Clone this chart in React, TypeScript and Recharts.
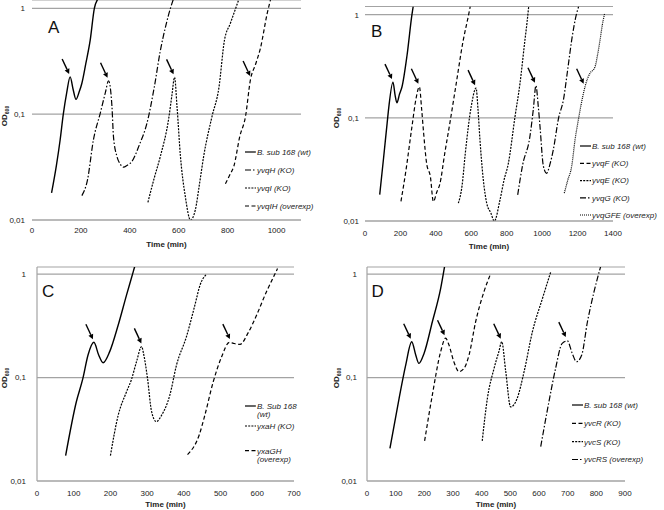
import React from "react";
import { CartesianGrid, Legend, Line, LineChart, ReferenceDot, XAxis, YAxis } from "recharts";

// [time (min), OD600]
const wtA = [[80, 0.018], [100, 0.033], [115, 0.057], [128, 0.1], [142, 0.16], [156, 0.225], [168, 0.172], [180, 0.138], [192, 0.16], [204, 0.196], [220, 0.3], [238, 0.5], [255, 1.0], [272, 1.25]];
const yvqHA = [[204, 0.017], [227, 0.024], [251, 0.057], [279, 0.102], [300, 0.16], [313, 0.207], [327, 0.118], [333, 0.062], [347, 0.04], [360, 0.034], [374, 0.0316], [390, 0.033], [408, 0.0356], [440, 0.052], [470, 0.082], [500, 0.18], [525, 0.4], [548, 0.7], [566, 1.0], [578, 1.22]];
const yvqIA = [[474, 0.0147], [500, 0.025], [525, 0.04], [559, 0.091], [572, 0.15], [583, 0.223], [593, 0.118], [607, 0.04], [627, 0.0166], [648, 0.01], [668, 0.0125], [685, 0.022], [702, 0.04], [736, 0.095], [764, 0.176], [787, 0.5], [811, 0.72], [846, 1.22]];
const yvqIHA = [[791, 0.022], [810, 0.027], [825, 0.032], [850, 0.062], [873, 0.095], [893, 0.21], [915, 0.3], [934, 0.42], [962, 0.9], [975, 1.2]];
const peaksA = [[156, 0.225], [313, 0.207], [583, 0.223], [896, 0.215]];

const wtB = [[83, 0.018], [105, 0.041], [125, 0.089], [134, 0.125], [158, 0.222], [170, 0.165], [180, 0.14], [195, 0.17], [209, 0.2], [237, 0.4], [265, 1.0], [272, 1.2]];
const yvqFB = [[203, 0.0155], [230, 0.03], [265, 0.082], [290, 0.16], [307, 0.2], [320, 0.12], [331, 0.071], [348, 0.036], [369, 0.027], [386, 0.0154], [405, 0.019], [423, 0.023], [450, 0.045], [480, 0.091], [510, 0.19], [555, 0.57], [585, 1.0], [594, 1.2]];
const yvqEB = [[527, 0.0149], [548, 0.022], [566, 0.045], [600, 0.13], [627, 0.194], [638, 0.12], [649, 0.061], [668, 0.025], [687, 0.0149], [710, 0.012], [730, 0.01], [762, 0.016], [785, 0.025], [809, 0.036], [847, 0.103], [875, 0.216], [903, 0.57], [915, 0.85], [924, 1.2]];
const yvqGB = [[862, 0.0179], [890, 0.035], [931, 0.066], [950, 0.12], [965, 0.205], [978, 0.13], [988, 0.082], [1007, 0.034], [1025, 0.029], [1045, 0.036], [1063, 0.049], [1093, 0.1], [1120, 0.149], [1145, 0.3], [1167, 0.57], [1193, 1.0], [1206, 1.2]];
const yvqGFEB = [[1125, 0.0186], [1145, 0.025], [1167, 0.034], [1185, 0.06], [1204, 0.095], [1222, 0.14], [1242, 0.2], [1256, 0.24], [1270, 0.27], [1298, 0.31], [1312, 0.4], [1327, 0.57], [1340, 0.8], [1353, 1.03]];
const peaksB = [[158, 0.222], [307, 0.2], [627, 0.194], [965, 0.205], [1240, 0.2]];

const wtC = [[78, 0.0176], [107, 0.058], [125, 0.098], [139, 0.165], [155, 0.219], [168, 0.165], [180, 0.139], [198, 0.178], [221, 0.32], [244, 0.63], [262, 1.05], [266, 1.18]];
const yxaHC = [[200, 0.0176], [221, 0.043], [244, 0.073], [257, 0.095], [271, 0.142], [285, 0.199], [291, 0.165], [301, 0.098], [312, 0.047], [325, 0.0375], [339, 0.043], [362, 0.068], [380, 0.132], [407, 0.248], [430, 0.5], [444, 0.78], [462, 1.0]];
const yxaGHC = [[410, 0.018], [442, 0.028], [457, 0.043], [480, 0.091], [503, 0.159], [524, 0.219], [535, 0.214], [553, 0.209], [575, 0.27], [598, 0.4], [625, 0.675], [648, 1.0], [655, 1.13]];
const peaksC = [[155, 0.219], [287, 0.2], [528, 0.22]];

const wtD = [[80, 0.0207], [112, 0.063], [135, 0.132], [156, 0.222], [170, 0.165], [181, 0.137], [199, 0.171], [228, 0.346], [257, 0.727], [271, 1.2]];
const yvcRD = [[201, 0.0244], [228, 0.068], [257, 0.178], [274, 0.24], [286, 0.206], [303, 0.142], [321, 0.114], [338, 0.122], [356, 0.165], [379, 0.346], [408, 0.675], [431, 1.0]];
const yvcSD = [[402, 0.0244], [420, 0.063], [443, 0.122], [460, 0.178], [470, 0.222], [484, 0.114], [501, 0.052], [524, 0.063], [548, 0.114], [577, 0.277], [612, 0.58], [641, 1.05]];
const yvcRSD = [[606, 0.0215], [635, 0.059], [658, 0.123], [681, 0.214], [699, 0.226], [716, 0.171], [731, 0.142], [749, 0.165], [769, 0.346], [792, 0.675], [815, 1.18]];
const peaksD = [[156, 0.222], [274, 0.24], [470, 0.222], [697, 0.23]];

const yTicks = [0.01, 0.1, 1];
const yTickLabels = ["0,01", "0,1", "1"];
const xTicksA = [0, 200, 400, 600, 800, 1000];
const xTicksB = [0, 200, 400, 600, 800, 1000, 1200, 1400];
const xTicksC = [0, 100, 200, 300, 400, 500, 600, 700];
const xTicksD = [0, 100, 200, 300, 400, 500, 600, 700, 800, 900];

const FONT = '"Liberation Sans", Arial, sans-serif';
const GRID = "#a3a3a3";
const SOLID = undefined;
const DASH = "4 2.5";
const FINE = "2 1.2";
const DASHDOT = "6 2 1.5 2";
const DOT = "1 1";

const toRows = (pairs: number[][]) => pairs.map(([t, od]) => ({ t, od }));
const fmtY = (v: number) => yTickLabels[yTicks.indexOf(v)] ?? String(v);

function Arrow({ cx, cy }: any) {
  if (cx == null || cy == null) return <g />;
  const tipX = cx - 1;
  const tipY = cy - 3;
  const tailX = tipX - 7;
  const tailY = tipY - 15;
  const len = Math.hypot(tipX - tailX, tipY - tailY);
  const ux = (tipX - tailX) / len;
  const uy = (tipY - tailY) / len;
  const bx = tipX - ux * 5;
  const by = tipY - uy * 5;
  const hw = 2.6;
  const pts = `${tipX},${tipY} ${bx - uy * hw},${by + ux * hw} ${bx + uy * hw},${by - ux * hw}`;
  return (
    <g>
      <line x1={tailX} y1={tailY} x2={bx} y2={by} stroke="#000" strokeWidth={1.4} />
      <polygon points={pts} fill="#000" />
    </g>
  );
}

type Row = { y: number; dash?: string; lines: string[] };

function LegendBox({ rows, width, height }: { rows: Row[]; width: number; height: number }) {
  return (
    <svg width={width} height={height} style={{ display: "block", overflow: "visible" }}>
      {rows.map((r, i) => (
        <g key={i}>
          <line x1={0} x2={11} y1={r.y} y2={r.y} stroke="#000" strokeWidth={1.2} strokeDasharray={r.dash} />
          <text x={12} y={r.y + 2.8} fontSize={8} fontStyle="italic" fontFamily={FONT} fill="#222">
            {r.lines.map((ln, j) => (
              <tspan key={j} x={12} dy={j === 0 ? 0 : 8.5}>
                {ln}
              </tspan>
            ))}
          </text>
        </g>
      ))}
    </svg>
  );
}

const panels = [
  {
    letter: "A", left: 0, top: 0, xMax: 1100, xTicks: xTicksA, yMax: 1.2,
    margin: { top: 0, right: 31, bottom: 0, left: 0 }, yWidth: 32, xHeight: 35,
    xTickMargin: 7, yTickMargin: 7, titleOffset: 8, yLine: false, labelY: 116,
    letterPos: { left: 48, top: 19 },
    series: [
      { name: "B. sub 168 (wt)", data: wtA, dash: SOLID },
      { name: "yvqH (KO)", data: yvqHA, dash: DASHDOT },
      { name: "yvqI (KO)", data: yvqIA, dash: FINE },
      { name: "yvqIH  (overexp)", data: yvqIHA, dash: DASH },
    ],
    peaks: peaksA,
    legend: { left: 245, top: 145, width: 90, height: 70, rows: [7, 25, 43, 61] },
  },
  {
    letter: "B", left: 332, top: 0, xMax: 1400, xTicks: xTicksB, yMax: 1.2,
    margin: { top: 6.5, right: 51, bottom: 0, left: 0 }, yWidth: 33, xHeight: 34,
    xTickMargin: 9, yTickMargin: 6, titleOffset: 6, yLine: false, labelY: 118,
    letterPos: { left: 39, top: 23 },
    series: [
      { name: "B. sub 168 (wt)", data: wtB, dash: SOLID },
      { name: "yvqF (KO)", data: yvqFB, dash: DASH },
      { name: "yvqE (KO)", data: yvqEB, dash: FINE },
      { name: "yvqG (KO)", data: yvqGB, dash: DASHDOT },
      { name: "yvqGFE (overexp)", data: yvqGFEB, dash: DOT },
    ],
    peaks: peaksB,
    legend: { left: 248, top: 139, width: 84, height: 85, rows: [7, 24.3, 41.6, 58.9, 76] },
  },
  {
    letter: "C", left: 0, top: 255, xMax: 700, xTicks: xTicksC, yMax: 1.17,
    margin: { top: 12, right: 38, bottom: 0, left: 0 }, yWidth: 37, xHeight: 29,
    xTickMargin: 9.5, yTickMargin: 11, titleOffset: 3, yLine: true, labelY: 123,
    letterPos: { left: 42, top: 28 },
    series: [
      { name: "B. Sub 168|(wt)", data: wtC, dash: SOLID },
      { name: "yxaH (KO)", data: yxaHC, dash: FINE },
      { name: "yxaGH|(overexp)", data: yxaGHC, dash: DASH },
    ],
    peaks: peaksC,
    legend: { left: 245, top: 144, width: 87, height: 75, rows: [7, 27, 51.7] },
  },
  {
    letter: "D", left: 332, top: 255, xMax: 900, xTicks: xTicksD, yMax: 1.17,
    margin: { top: 12, right: 39, bottom: 0, left: 0 }, yWidth: 35, xHeight: 29,
    xTickMargin: 9, yTickMargin: 10, titleOffset: 3, yLine: true, labelY: 123,
    letterPos: { left: 39.5, top: 28 },
    series: [
      { name: "B. sub 168 (wt)", data: wtD, dash: SOLID },
      { name: "yvcR (KO)", data: yvcRD, dash: DASH },
      { name: "yvcS (KO)", data: yvcSD, dash: FINE },
      { name: "yvcRS (overexp)", data: yvcRSD, dash: DASHDOT },
    ],
    peaks: peaksD,
    legend: { left: 240, top: 143, width: 92, height: 70, rows: [7, 25.3, 43.7, 61.5] },
  },
];

function OdLabel({ y }: { y: number }) {
  const x = 7;
  return (
    <text x={x} y={y} transform={`rotate(-90 ${x} ${y})`} textAnchor="middle" fontFamily={FONT} fontWeight="bold" fontSize={8} fill="#222">
      OD<tspan fontSize={5} dy={2}>600</tspan>
    </text>
  );
}

function Panel({ p }: { p: (typeof panels)[number] }) {
  const rows: Row[] = p.series.map((s, i) => ({ y: p.legend.rows[i], dash: s.dash, lines: s.name.split("|") }));
  return (
    <div style={{ position: "absolute", left: p.left, top: p.top, width: 332, height: 255 }}>
      <LineChart width={332} height={255} margin={p.margin}>
        <CartesianGrid vertical={false} stroke={GRID} strokeWidth={1.2} />
        <XAxis
          type="number"
          dataKey="t"
          domain={[0, p.xMax]}
          ticks={p.xTicks}
          allowDataOverflow
          height={p.xHeight}
          tickSize={0}
          tickMargin={p.xTickMargin}
          axisLine={{ stroke: GRID, strokeWidth: 1.2 }}
          tick={{ fontSize: 8, fontFamily: FONT, fill: "#222" }}
          label={{ value: "Time (min)", position: "insideBottom", offset: p.titleOffset, style: { fontSize: 8, fontWeight: "bold", fontFamily: FONT, fill: "#222" } }}
        />
        <YAxis
          type="number"
          scale="log"
          domain={[0.01, p.yMax]}
          ticks={yTicks}
          tickFormatter={fmtY}
          allowDataOverflow
          width={p.yWidth}
          tickSize={0}
          tickMargin={p.yTickMargin}
          axisLine={p.yLine ? { stroke: GRID, strokeWidth: 1.2 } : false}
          tick={{ fontSize: 8, fontFamily: FONT, fill: "#222" }}
          label={{ content: () => <OdLabel y={p.labelY} /> }}
        />
        {p.series.map((s) => (
          <Line
            key={s.name}
            data={toRows(s.data)}
            dataKey="od"
            name={s.name}
            type="monotone"
            stroke="#000"
            strokeWidth={s.dash ? 1.2 : 1.4}
            strokeDasharray={s.dash}
            dot={false}
            activeDot={false}
            isAnimationActive={false}
          />
        ))}
        {p.peaks.map(([t, od], i) => (
          <ReferenceDot key={i} x={t} y={od} r={0} ifOverflow="visible" shape={(props: any) => <Arrow {...props} />} />
        ))}
        <Legend
          layout="vertical"
          align="center"
          verticalAlign="middle"
          wrapperStyle={{ left: p.legend.left, top: p.legend.top, width: p.legend.width, height: p.legend.height }}
          content={() => <LegendBox rows={rows} width={p.legend.width} height={p.legend.height} />}
        />
      </LineChart>
      <div style={{ position: "absolute", left: p.letterPos.left, top: p.letterPos.top, fontFamily: FONT, fontSize: 17, lineHeight: "17px", color: "#111" }}>
        {p.letter}
      </div>
    </div>
  );
}

export default function App() {
  return (
    <div style={{ position: "absolute", left: 0, top: 0, width: 664, height: 510, background: "#fff", overflow: "hidden" }}>
      {panels.map((p) => (
        <Panel key={p.letter} p={p} />
      ))}
    </div>
  );
}
